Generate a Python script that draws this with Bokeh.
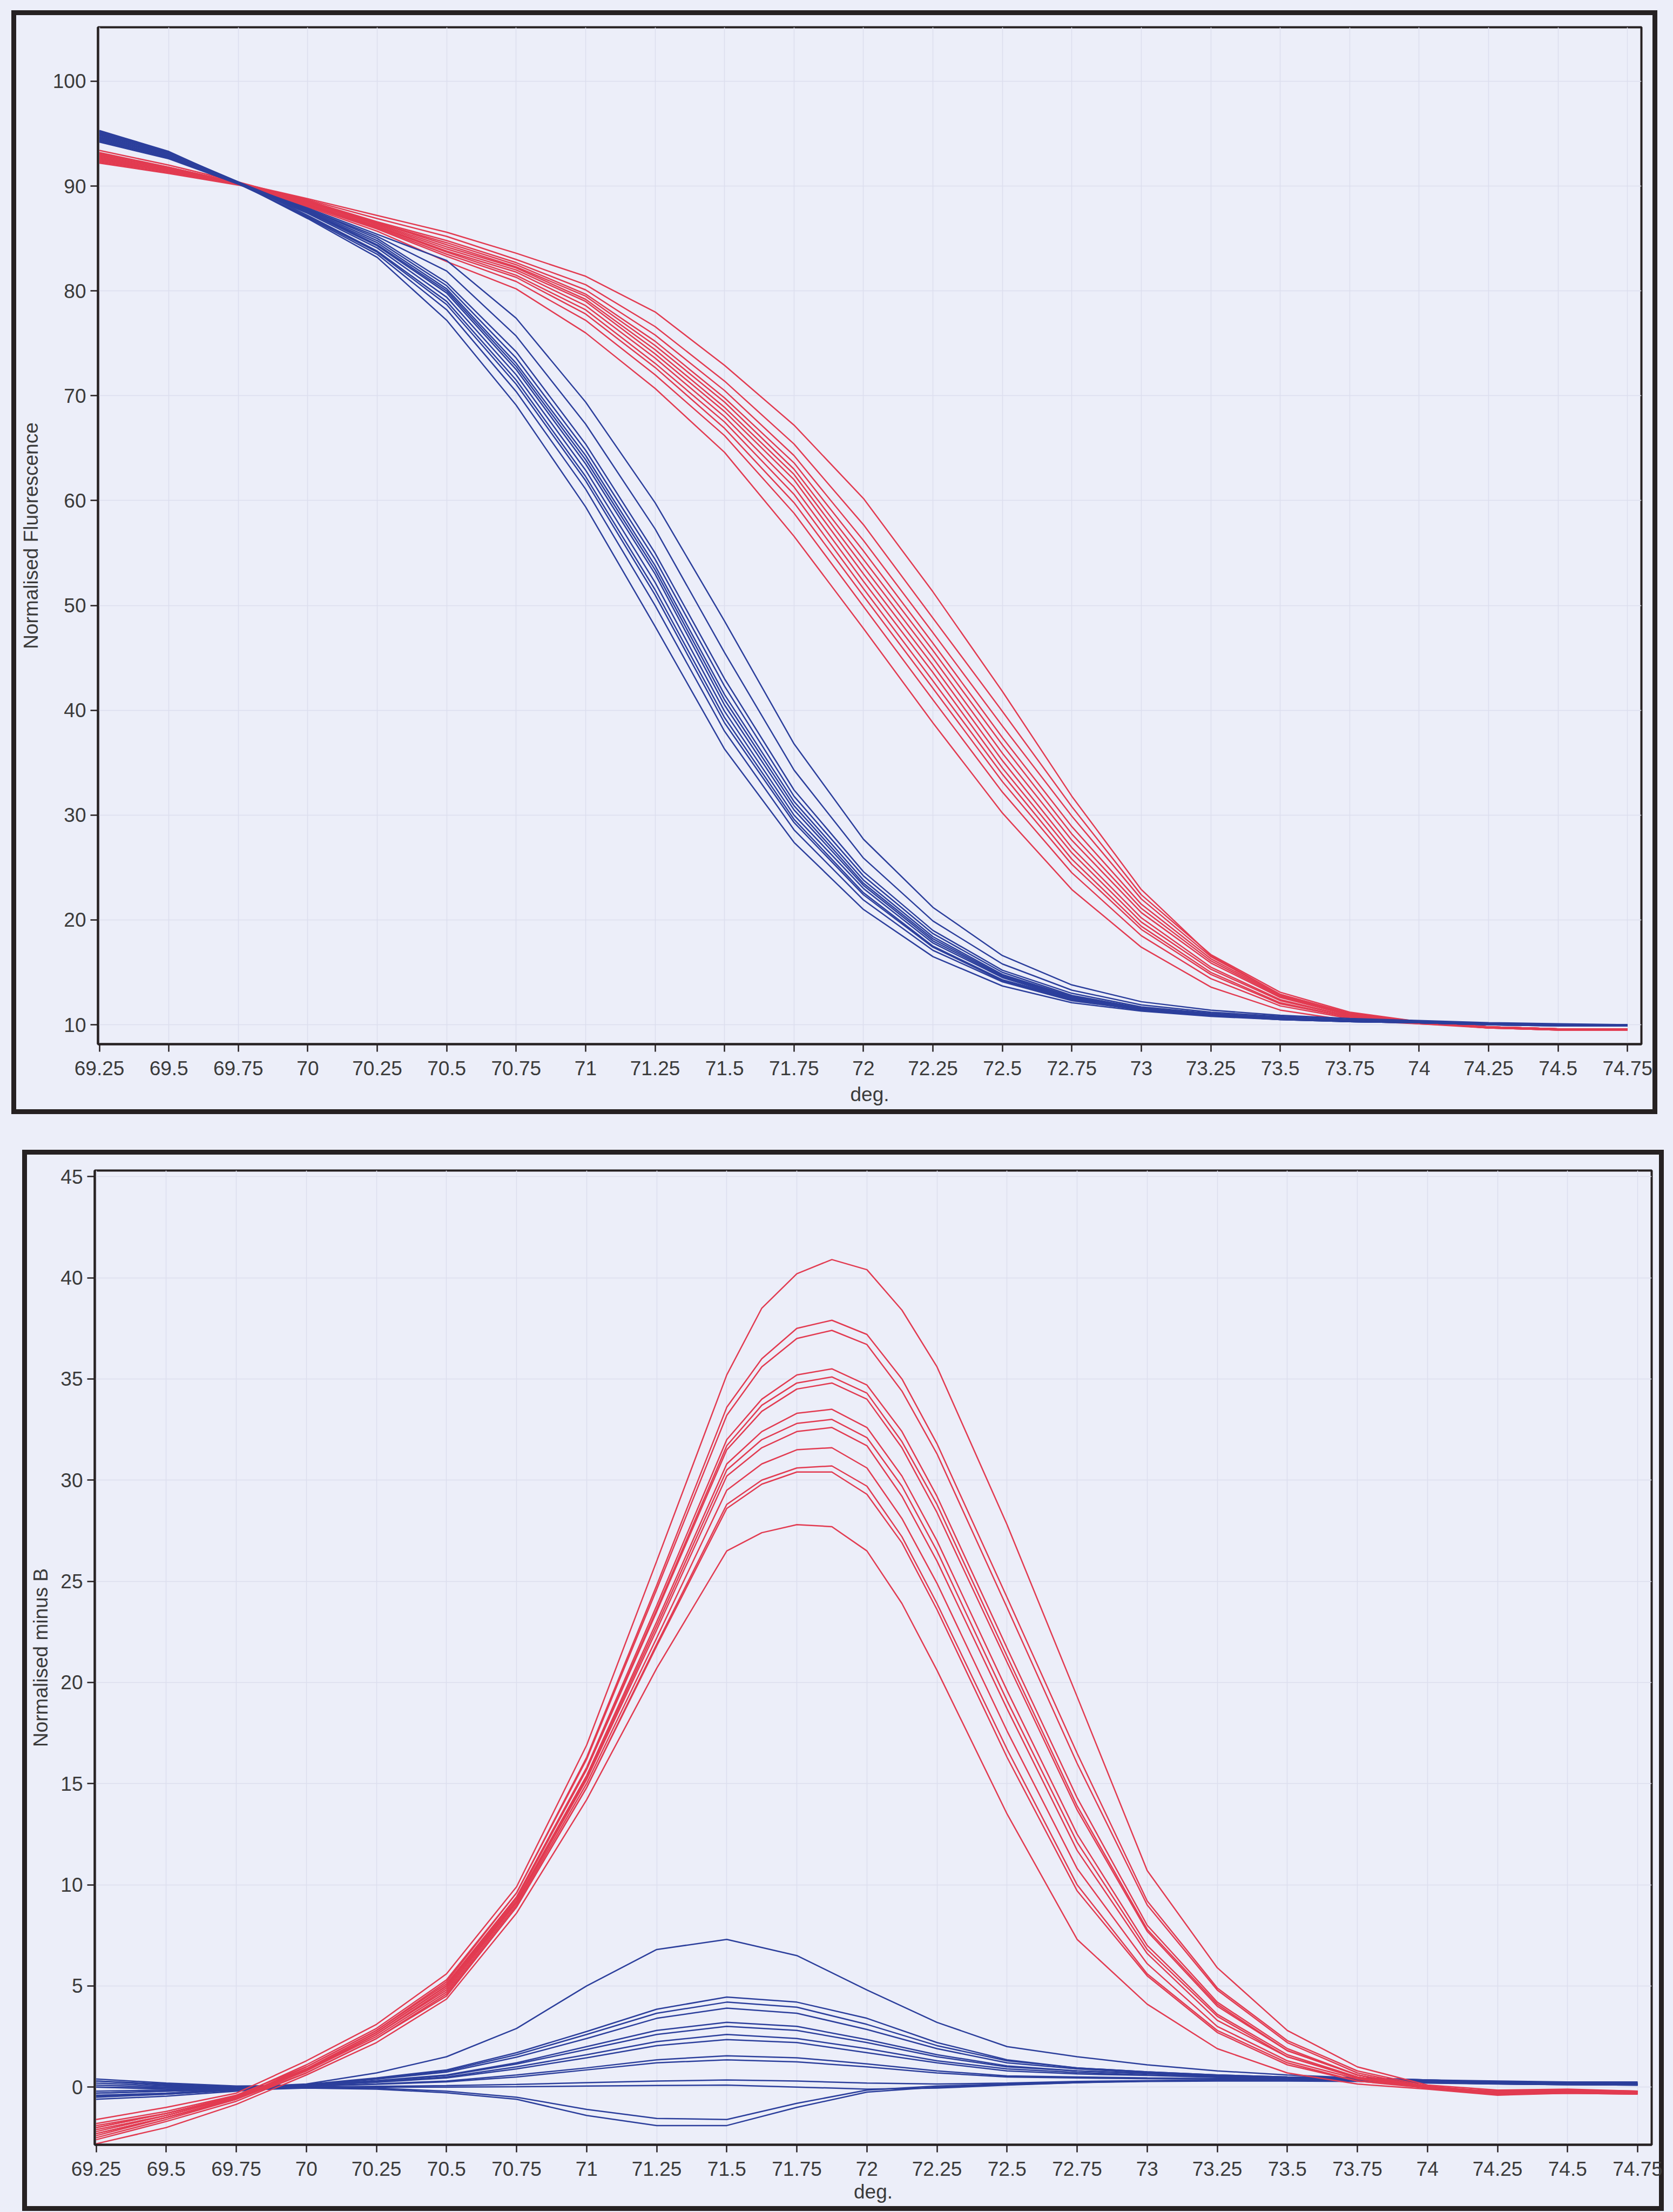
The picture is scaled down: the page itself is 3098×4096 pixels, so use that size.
from bokeh.plotting import figure
from bokeh.models import FixedTicker, Range1d
from bokeh.embed import file_html
from bokeh.resources import INLINE

# ---------------- data ----------------
deg_ticks = [69.25, 69.5, 69.75, 70.0, 70.25, 70.5, 70.75, 71.0, 71.25, 71.5, 71.75, 72.0,
             72.25, 72.5, 72.75, 73.0, 73.25, 73.5, 73.75, 74.0, 74.25, 74.5, 74.75]
deg_tick_labels = ["69.25", "69.5", "69.75", "70", "70.25", "70.5", "70.75", "71", "71.25",
                   "71.5", "71.75", "72", "72.25", "72.5", "72.75", "73", "73.25", "73.5",
                   "73.75", "74", "74.25", "74.5", "74.75"]
fluor_ticks = [10, 20, 30, 40, 50, 60, 70, 80, 90, 100]
minusb_ticks = [0, 5, 10, 15, 20, 25, 30, 35, 40, 45]

# temperatures of the samples
temps = [69.25, 69.5, 69.75, 70.0, 70.25, 70.5, 70.75, 71.0, 71.25, 71.5, 71.75, 72.0,
         72.25, 72.5, 72.75, 73.0, 73.25, 73.5, 73.75, 74.0, 74.25, 74.5, 74.75]
temps_diff_red = [69.25, 69.5, 69.75, 70.0, 70.25, 70.5, 70.75, 71.0, 71.25, 71.5, 71.625,
                  71.75, 71.875, 72.0, 72.125, 72.25, 72.5, 72.75, 73.0, 73.25, 73.5, 73.75,
                  74.0, 74.25, 74.5, 74.75]

# Normalised fluorescence, blue group
fluor_blue = [
    [95.3, 93.3, 90.3, 86.9, 83.2, 77.2, 69.1, 59.4, 48.0, 36.3, 27.4, 21.0, 16.5, 13.7, 12.1, 11.3, 10.8, 10.5, 10.3, 10.2, 10.0, 9.9, 9.9],
    [94.9, 93.1, 90.3, 87.0, 83.5, 78.2, 70.4, 61.1, 50.0, 38.0, 28.6, 21.9, 17.1, 14.1, 12.3, 11.4, 10.9, 10.5, 10.3, 10.2, 10.0, 9.9, 9.9],
    [94.5, 92.8, 90.2, 87.1, 83.7, 78.7, 71.1, 61.9, 51.0, 38.8, 29.3, 22.4, 17.4, 14.2, 12.4, 11.4, 10.9, 10.6, 10.3, 10.2, 10.0, 9.95, 9.9],
    [95.1, 93.2, 90.4, 87.2, 83.8, 79.0, 71.5, 62.3, 51.5, 39.3, 29.6, 22.6, 17.5, 14.3, 12.5, 11.4, 10.9, 10.6, 10.3, 10.2, 10.0, 9.9, 9.9],
    [94.3, 92.7, 90.2, 87.4, 84.1, 79.4, 72.0, 62.9, 52.2, 39.9, 30.0, 23.0, 17.8, 14.5, 12.5, 11.5, 11.0, 10.6, 10.4, 10.2, 10.0, 10.0, 9.9],
    [94.8, 93.0, 90.3, 87.5, 84.3, 79.8, 72.5, 63.5, 53.0, 40.5, 30.5, 23.3, 18.0, 14.6, 12.6, 11.5, 10.9, 10.5, 10.3, 10.2, 10.0, 9.95, 9.9],
    [95.0, 93.1, 90.3, 87.6, 84.4, 80.0, 72.8, 63.9, 53.4, 41.0, 30.9, 23.5, 18.2, 14.7, 12.7, 11.5, 11.0, 10.6, 10.4, 10.2, 10.1, 10.0, 9.9],
    [94.6, 92.9, 90.2, 87.6, 84.6, 80.2, 73.1, 64.3, 53.8, 41.5, 31.3, 23.8, 18.4, 14.8, 12.7, 11.6, 11.0, 10.6, 10.4, 10.2, 10.0, 9.95, 9.9],
    [95.2, 93.2, 90.4, 87.7, 84.8, 80.5, 73.6, 64.8, 54.4, 42.3, 31.8, 24.2, 18.7, 15.0, 12.8, 11.6, 11.0, 10.7, 10.4, 10.3, 10.1, 10.0, 9.9],
    [94.4, 92.7, 90.2, 87.8, 85.0, 80.8, 74.2, 65.4, 55.0, 43.0, 32.4, 24.6, 19.0, 15.2, 13.0, 11.7, 11.1, 10.7, 10.4, 10.3, 10.1, 10.0, 10.0],
    [94.7, 92.9, 90.3, 87.8, 85.2, 81.9, 75.7, 67.3, 57.3, 45.5, 34.3, 25.9, 19.9, 15.8, 13.3, 11.9, 11.2, 10.8, 10.5, 10.3, 10.1, 10.0, 10.0],
    [94.2, 92.6, 90.2, 87.9, 85.4, 82.9, 77.4, 69.4, 59.8, 48.5, 36.8, 27.7, 21.2, 16.6, 13.8, 12.2, 11.4, 10.9, 10.6, 10.4, 10.2, 10.1, 10.0],
]

# Normalised fluorescence, red group
fluor_red = [
    [92.3, 91.3, 90.2, 88.0, 85.7, 82.8, 80.2, 76.0, 70.7, 64.6, 56.6, 47.8, 38.8, 30.2, 22.9, 17.4, 13.6, 11.4, 10.4, 10.1, 9.7, 9.5, 9.5],
    [93.2, 91.8, 90.3, 88.1, 85.9, 83.3, 80.9, 77.2, 72.0, 66.2, 58.8, 49.9, 41.0, 32.2, 24.5, 18.5, 14.4, 11.8, 10.6, 10.1, 9.8, 9.6, 9.6],
    [92.6, 91.5, 90.2, 88.2, 86.0, 83.5, 81.3, 77.8, 72.7, 66.9, 59.8, 50.9, 42.1, 33.2, 25.3, 19.1, 14.8, 12.0, 10.7, 10.2, 9.7, 9.5, 9.5],
    [92.9, 91.7, 90.3, 88.3, 86.1, 83.7, 81.5, 78.2, 73.1, 67.5, 60.6, 51.6, 42.8, 33.9, 25.8, 19.4, 15.0, 12.1, 10.7, 10.2, 9.8, 9.6, 9.6],
    [92.4, 91.4, 90.2, 88.3, 86.2, 83.8, 81.8, 78.6, 73.6, 68.0, 61.3, 52.3, 43.6, 34.5, 26.4, 19.8, 15.3, 12.3, 10.8, 10.2, 9.7, 9.5, 9.5],
    [92.8, 91.6, 90.2, 88.4, 86.3, 84.0, 82.0, 79.0, 74.0, 68.5, 62.0, 53.0, 44.3, 35.2, 26.9, 20.2, 15.5, 12.4, 10.8, 10.2, 9.8, 9.6, 9.6],
    [93.1, 91.8, 90.3, 88.5, 86.4, 84.2, 82.2, 79.2, 74.4, 68.9, 62.5, 53.7, 45.0, 35.9, 27.6, 20.7, 15.9, 12.6, 10.9, 10.2, 9.8, 9.6, 9.6],
    [92.2, 91.2, 90.1, 88.5, 86.5, 84.4, 82.3, 79.5, 74.8, 69.4, 63.0, 54.4, 45.7, 36.7, 28.2, 21.1, 16.1, 12.7, 11.0, 10.3, 9.7, 9.5, 9.5],
    [93.4, 92.0, 90.4, 88.6, 86.5, 84.6, 82.5, 79.7, 75.2, 69.8, 63.6, 55.2, 46.4, 37.4, 28.9, 21.5, 16.3, 12.8, 11.0, 10.2, 9.8, 9.6, 9.6],
    [92.5, 91.5, 90.2, 88.6, 86.6, 84.8, 82.7, 80.1, 75.8, 70.5, 64.3, 56.2, 47.4, 38.5, 29.9, 22.0, 16.5, 12.9, 11.1, 10.3, 9.8, 9.6, 9.6],
    [93.0, 91.7, 90.3, 88.7, 86.9, 85.2, 83.0, 80.6, 76.6, 71.4, 65.4, 57.7, 48.8, 39.9, 30.8, 22.4, 16.7, 13.1, 11.2, 10.3, 9.8, 9.6, 9.6],
    [92.7, 91.6, 90.3, 88.8, 87.2, 85.6, 83.6, 81.4, 78.0, 72.9, 67.2, 60.2, 51.3, 41.8, 31.8, 22.9, 16.6, 12.9, 11.0, 10.2, 9.8, 9.6, 9.6],
]

# Normalised minus B, red group (sampled at temps_diff_red)
minusb_red = [
    [-1.6, -1.0, -0.3, 1.3, 3.1, 5.6, 9.9, 16.9, 26.0, 35.2, 38.5, 40.2, 40.9, 40.4, 38.4, 35.6, 27.8, 19.3, 10.7, 5.9, 2.8, 1.0, 0.1, -0.15, -0.1, -0.2],
    [-2.0, -1.3, -0.45, 1.1, 2.9, 5.3, 9.6, 16.3, 24.8, 33.6, 36.0, 37.5, 37.9, 37.2, 35.0, 31.8, 24.2, 16.5, 9.2, 4.9, 2.3, 0.8, 0.05, -0.25, -0.2, -0.2],
    [-2.3, -1.5, -0.55, 1.0, 2.8, 5.2, 9.6, 16.2, 24.6, 33.2, 35.6, 37.0, 37.4, 36.7, 34.4, 31.3, 23.7, 16.0, 9.0, 4.8, 2.2, 0.7, 0.0, -0.3, -0.25, -0.3],
    [-1.8, -1.2, -0.4, 1.0, 2.8, 5.1, 9.4, 15.8, 23.8, 32.0, 34.0, 35.2, 35.5, 34.7, 32.4, 29.2, 21.7, 14.3, 8.0, 4.2, 1.9, 0.6, 0.0, -0.2, -0.15, -0.2],
    [-2.5, -1.6, -0.6, 0.9, 2.7, 5.0, 9.4, 15.7, 23.6, 31.7, 33.7, 34.8, 35.1, 34.3, 31.9, 28.8, 21.3, 13.9, 7.8, 4.1, 1.8, 0.6, -0.05, -0.35, -0.3, -0.3],
    [-2.1, -1.4, -0.5, 0.9, 2.7, 5.0, 9.3, 15.7, 23.5, 31.5, 33.4, 34.5, 34.8, 34.0, 31.6, 28.4, 21.0, 13.7, 7.7, 4.0, 1.8, 0.6, 0.0, -0.25, -0.2, -0.25],
    [-2.2, -1.4, -0.5, 0.9, 2.7, 5.0, 9.2, 15.4, 23.0, 30.8, 32.4, 33.3, 33.5, 32.6, 30.2, 27.0, 19.6, 12.5, 7.0, 3.6, 1.6, 0.5, 0.0, -0.3, -0.2, -0.3],
    [-1.9, -1.3, -0.45, 0.85, 2.6, 4.9, 9.15, 15.3, 22.8, 30.5, 32.0, 32.8, 33.0, 32.1, 29.7, 26.5, 19.1, 12.1, 6.8, 3.5, 1.5, 0.5, -0.05, -0.2, -0.15, -0.2],
    [-2.4, -1.5, -0.6, 0.8, 2.6, 4.8, 9.1, 15.2, 22.6, 30.2, 31.6, 32.4, 32.6, 31.7, 29.2, 26.0, 18.7, 11.7, 6.6, 3.3, 1.5, 0.45, 0.0, -0.3, -0.25, -0.3],
    [-2.0, -1.3, -0.5, 0.8, 2.5, 4.7, 9.0, 15.0, 22.2, 29.5, 30.8, 31.5, 31.6, 30.6, 28.1, 24.9, 17.6, 10.8, 6.1, 3.0, 1.3, 0.4, -0.05, -0.3, -0.2, -0.25],
    [-2.6, -1.7, -0.7, 0.7, 2.4, 4.6, 8.9, 14.8, 21.9, 28.8, 30.0, 30.6, 30.7, 29.7, 27.2, 23.9, 16.7, 10.0, 5.6, 2.8, 1.2, 0.3, -0.05, -0.35, -0.3, -0.35],
    [-2.3, -1.5, -0.6, 0.7, 2.4, 4.5, 8.9, 14.8, 21.8, 28.6, 29.8, 30.4, 30.4, 29.3, 26.9, 23.6, 16.3, 9.7, 5.5, 2.7, 1.1, 0.3, 0.0, -0.25, -0.2, -0.25],
    [-2.8, -2.0, -0.85, 0.6, 2.2, 4.35, 8.6, 14.2, 20.7, 26.5, 27.4, 27.8, 27.7, 26.5, 23.9, 20.6, 13.5, 7.3, 4.1, 1.9, 0.7, 0.15, -0.1, -0.4, -0.3, -0.35],
]

# Normalised minus B, blue group (sampled at temps)
minusb_blue = [
    [0.3, 0.1, 0.0, 0.15, 0.7, 1.5, 2.9, 5.0, 6.8, 7.3, 6.5, 4.8, 3.2, 2.0, 1.5, 1.1, 0.8, 0.6, 0.45, 0.35, 0.3, 0.25, 0.25],
    [-0.4, -0.3, -0.1, 0.13, 0.45, 0.85, 1.7, 2.75, 3.85, 4.45, 4.2, 3.4, 2.2, 1.35, 0.95, 0.75, 0.6, 0.5, 0.45, 0.35, 0.25, 0.2, 0.2],
    [0.2, 0.05, -0.05, 0.12, 0.42, 0.8, 1.6, 2.6, 3.65, 4.2, 3.95, 3.1, 2.05, 1.3, 0.95, 0.75, 0.6, 0.5, 0.45, 0.35, 0.25, 0.2, 0.2],
    [-0.5, -0.35, -0.15, 0.1, 0.39, 0.74, 1.48, 2.4, 3.4, 3.9, 3.65, 2.85, 1.9, 1.2, 0.9, 0.72, 0.58, 0.48, 0.42, 0.32, 0.24, 0.2, 0.18],
    [0.0, -0.05, -0.05, 0.1, 0.32, 0.6, 1.2, 2.0, 2.8, 3.2, 3.0, 2.35, 1.6, 1.05, 0.8, 0.68, 0.55, 0.46, 0.4, 0.3, 0.22, 0.18, 0.15],
    [-0.3, -0.2, -0.1, 0.09, 0.3, 0.57, 1.14, 1.86, 2.6, 3.0, 2.8, 2.2, 1.5, 1.0, 0.8, 0.66, 0.54, 0.45, 0.4, 0.3, 0.22, 0.18, 0.15],
    [0.4, 0.2, 0.05, 0.08, 0.26, 0.5, 1.0, 1.6, 2.25, 2.6, 2.4, 1.9, 1.3, 0.9, 0.72, 0.6, 0.5, 0.43, 0.38, 0.28, 0.2, 0.15, 0.12],
    [-0.2, -0.15, -0.05, 0.07, 0.24, 0.45, 0.9, 1.45, 2.05, 2.35, 2.2, 1.7, 1.2, 0.8, 0.65, 0.58, 0.48, 0.42, 0.37, 0.28, 0.2, 0.15, 0.12],
    [0.1, 0.0, -0.05, 0.05, 0.16, 0.3, 0.6, 0.95, 1.35, 1.55, 1.45, 1.15, 0.8, 0.55, 0.5, 0.45, 0.42, 0.4, 0.35, 0.26, 0.2, 0.15, 0.12],
    [-0.6, -0.45, -0.2, 0.04, 0.14, 0.26, 0.5, 0.85, 1.2, 1.35, 1.25, 1.0, 0.7, 0.5, 0.45, 0.42, 0.4, 0.38, 0.33, 0.25, 0.2, 0.15, 0.12],
    [0.0, -0.1, -0.05, 0.0, 0.04, 0.07, 0.13, 0.22, 0.3, 0.35, 0.3, 0.2, 0.15, 0.2, 0.28, 0.32, 0.35, 0.35, 0.33, 0.25, 0.18, 0.15, 0.12],
    [-0.3, -0.2, -0.1, 0.0, 0.0, 0.0, 0.02, 0.05, 0.08, 0.1, 0.0, -0.1, -0.05, 0.1, 0.22, 0.3, 0.33, 0.33, 0.3, 0.22, 0.16, 0.12, 0.1],
    [0.3, 0.15, 0.0, -0.02, -0.05, -0.2, -0.5, -1.1, -1.55, -1.6, -0.8, -0.15, 0.05, 0.15, 0.25, 0.3, 0.33, 0.33, 0.3, 0.22, 0.16, 0.12, 0.1],
    [-0.45, -0.35, -0.15, -0.05, -0.1, -0.28, -0.6, -1.4, -1.9, -1.9, -1.0, -0.25, 0.0, 0.12, 0.22, 0.28, 0.3, 0.3, 0.28, 0.2, 0.15, 0.12, 0.1],
]

# ---------------- styling ----------------
PAPER = "#eceef9"
FRAME = "#262122"
TEXT = "#3b3b3b"
GRID = "#dcdeee"
RED = "#e23b51"
BLUE = "#2c3f9c"
FONT = "Liberation Sans"
FS = "37px"
FRAME_W = 9


def make_panel(width, height, y_range, y_ticks, y_label, mb_left, mb_right, mb_top,
               mb_bottom, ylab_standoff, xlab_standoff, margin):
    p = figure(width=width, height=height,
               x_range=Range1d(69.245, 74.80), y_range=Range1d(*y_range),
               output_backend="svg", toolbar_location=None,
               min_border_left=mb_left, min_border_right=mb_right,
               min_border_top=mb_top, min_border_bottom=mb_bottom,
               background_fill_color=PAPER, border_fill_color=None,
               margin=margin)
    # thick outer frame of the panel (painted behind the transparent canvas border)
    p.styles = {"background-color": PAPER,
                "box-shadow": "inset 0 0 0 %dpx %s" % (FRAME_W, FRAME)}
    p.outline_line_color = FRAME
    p.outline_line_width = 4
    p.outline_line_alpha = 1.0

    p.xaxis.ticker = FixedTicker(ticks=deg_ticks)
    p.xaxis.major_label_overrides = {t: s for t, s in zip(deg_ticks, deg_tick_labels)}
    p.yaxis.ticker = FixedTicker(ticks=y_ticks)
    p.yaxis.major_label_overrides = {t: str(t) for t in y_ticks}
    p.xaxis.axis_label = "deg."
    p.yaxis.axis_label = y_label

    for ax in (p.xaxis[0], p.yaxis[0]):
        ax.axis_line_color = FRAME
        ax.axis_line_width = 4
        ax.major_tick_line_color = FRAME
        ax.major_tick_line_width = 2.5
        ax.major_tick_out = 14
        ax.major_tick_in = 0
        ax.minor_tick_line_color = None
        ax.major_label_text_font = FONT
        ax.major_label_text_font_size = FS
        ax.major_label_text_color = TEXT
        ax.axis_label_text_font = FONT
        ax.axis_label_text_font_size = FS
        ax.axis_label_text_font_style = "normal"
        ax.axis_label_text_color = TEXT
    p.xaxis.major_label_standoff = 17
    p.yaxis.major_label_standoff = 8
    p.xaxis.axis_label_standoff = xlab_standoff
    p.yaxis.axis_label_standoff = ylab_standoff

    p.xgrid.ticker = FixedTicker(ticks=deg_ticks)
    p.ygrid.ticker = FixedTicker(ticks=y_ticks)
    p.grid.grid_line_color = GRID
    p.grid.grid_line_width = 1.5
    return p


# ---------------- top panel ----------------
p1 = make_panel(3048, 2044, (8.15, 105.15), fluor_ticks, "Normalised Fluorescence",
                160, 30, 31, 130, 17, 12, (19, 0, 0, 21))
p1.multi_line(xs=[temps] * len(fluor_red), ys=fluor_red, line_color=RED, line_width=2.5)
p1.multi_line(xs=[temps] * len(fluor_blue), ys=fluor_blue, line_color=BLUE, line_width=2.5)

# ---------------- bottom panel ----------------
p2 = make_panel(3040, 1965, (-2.85, 45.3), minusb_ticks, "Normalised minus B",
                134, 23, 38, 123, 13, 6, (66, 0, 0, 41))
p2.multi_line(xs=[temps] * len(minusb_blue), ys=minusb_blue, line_color=BLUE, line_width=2.5)
p2.multi_line(xs=[temps_diff_red] * len(minusb_red), ys=minusb_red, line_color=RED, line_width=2.5)

TEMPLATE = ("{% block preamble %}<style>html, body { margin: 0 !important; padding: 0 !important; "
            "background-color: " + PAPER + "; }</style>{% endblock %}")
try:
    html = file_html([p1, p2], INLINE, title="melt curves", template=TEMPLATE)
except Exception:
    html = file_html([p1, p2], INLINE, title="melt curves")

open("out.html", "w").write(html)
